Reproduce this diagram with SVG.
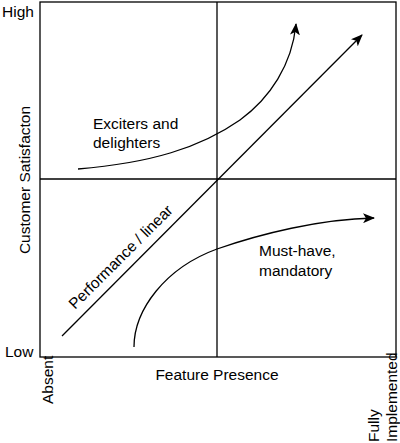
<svg xmlns="http://www.w3.org/2000/svg" width="400" height="443" viewBox="0 0 400 443">
<style>
text{font-family:"Liberation Sans",Arial,sans-serif;font-size:15.5px;fill:#000}
.ax{fill:none;stroke:#000;stroke-width:1.3}
.c{fill:none;stroke:#000;stroke-width:1.3}
</style>
<defs>
<marker id="ah" viewBox="0 0 12 10" refX="11" refY="5" markerWidth="12" markerHeight="10" markerUnits="userSpaceOnUse" orient="auto">
<path d="M0,0 L12,5 L0,10 L3,5 Z" fill="#000"/>
</marker>
</defs>
<rect width="400" height="443" fill="#fff"/>
<g id="axes">
<rect class="ax" x="40" y="2" width="356" height="355"/>
<line class="ax" x1="217" y1="2" x2="217" y2="357"/>
<line class="ax" x1="40" y1="179" x2="396" y2="179"/>
</g>
<g id="labels">
<text x="2" y="17">High</text>
<text x="5" y="357">Low</text>
<text transform="translate(30,180) rotate(-90)" text-anchor="middle">Customer Satisfacton</text>
<text x="217" y="380" text-anchor="middle">Feature Presence</text>
<text transform="translate(53,404) rotate(-90)">Absent</text>
<text transform="translate(379,442) rotate(-90)">Fully</text>
<text transform="translate(397,442) rotate(-90)">Implemented</text>
</g>
<g id="connectors">
<path id="exciters" class="c" marker-end="url(#ah)" d="M78,169 C150,163 200,148 240,120 C270,98 292,65 296,24"/>
<line id="performance" class="c" marker-end="url(#ah)" x1="62" y1="336" x2="362" y2="35"/>
<path id="musthave" class="c" marker-end="url(#ah)" d="M134,347 C134,310 165,268 217,249 C260,234 320,219 374,218"/>
</g>
<g id="node-exciters"><text x="93" y="129">Exciters and</text><text x="93" y="148">delighters</text></g>
<g id="node-performance"><text transform="translate(75,310) rotate(-45)">Performance / linear</text></g>
<g id="node-musthave"><text x="259" y="256">Must-have,</text><text x="259" y="276">mandatory</text></g>
</svg>
